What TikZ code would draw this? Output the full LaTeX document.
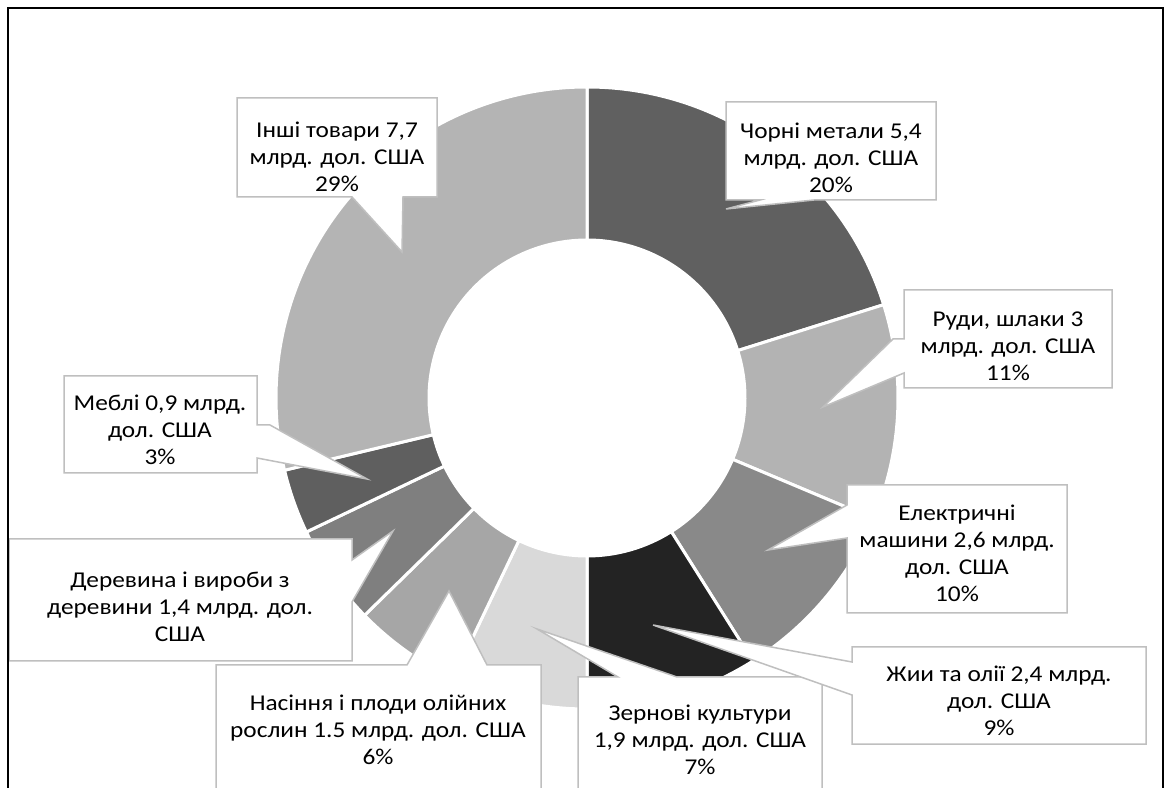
\documentclass[tikz,border=0pt]{standalone}
\usepackage{fontspec}
\setmainfont{Carlito}[FakeStretch=1.12]
\usetikzlibrary{calc}
\definecolor{cChorni}{HTML}{606060}
\definecolor{cRudy}{HTML}{B3B3B3}
\definecolor{cElektr}{HTML}{898989}
\definecolor{cZhyry}{HTML}{232323}
\definecolor{cZerno}{HTML}{D9D9D9}
\definecolor{cNasin}{HTML}{A6A6A6}
\definecolor{cDerev}{HTML}{7F7F7F}
\definecolor{cMebli}{HTML}{5F5F5F}
\definecolor{cInshi}{HTML}{B4B4B4}
\definecolor{calloutgray}{HTML}{BFBFBF}
\begin{document}
\begin{tikzpicture}[x=0.5pt,y=0.5pt,
  lbl/.style={align=center, font=\fontsize{11.3}{13.5}\selectfont, inner sep=0pt, text=black},
  callout/.style={fill=white, draw=calloutgray, line width=0.75pt, line join=miter},
  slice/.style={draw=white, line width=1.5pt, line join=miter}]
\useasboundingbox (0,0) rectangle (1172,787);
\clip (0,0) rectangle (1172,787);
\fill[white] (0,0) rectangle (1172,787);
\coordinate (C) at (587,389);
% doughnut slices
\foreach \a/\b/\c in {90/17.463/cChorni, 17.463/-22.836/cRudy, -22.836/-57.761/cElektr,
  -57.761/-90/cZhyry, -90/-115.522/cZerno, -115.522/-135.672/cNasin,
  -135.672/-154.478/cDerev, -154.478/-166.567/cMebli, -166.567/-270/cInshi} {
  \path[fill=\c, slice] ($(C)+(\a:311)$) arc[start angle=\a, end angle=\b, radius=311]
    -- ($(C)+(\b:158)$) arc[start angle=\b, end angle=\a, radius=158] -- cycle;
}
% callouts
\path[callout] (237,689) -- (437,689) -- (437,590) -- (403,590) -- (402,535) -- (352,590) -- (237,590) -- cycle;
\node[lbl] (inshi) at (337,630) {Інші товари 7,7\\млрд. дол. США\\29\%};

\path[callout] (726,685) -- (936,685) -- (936,587) -- (814,587) -- (726,578) -- (760,587) -- (726,587) -- cycle;
\node[lbl] (chorni) at (831,629) {Чорні метали 5,4\\млрд. дол. США\\20\%};

\path[callout] (904,497) -- (1112,497) -- (1112,399) -- (904,399) -- (904,414) -- (823,380) -- (893,448) -- (904,448) -- cycle;
\node[lbl] (rudy) at (1008,441) {Руди, шлаки 3\\млрд. дол. США\\11\%};

\path[callout] (847,302) -- (1067,302) -- (1067,174) -- (847,174) -- (847,249) -- (768,237) -- (847,282) -- cycle;
\node[lbl] (elektr) at (957,234) {Електричні\\машини 2,6 млрд.\\дол. США\\10\%};

\path[callout] (578,110) -- (618,110) -- (537,158) -- (677,110) -- (822,110) -- (822,-13) -- (578,-13) -- cycle;
\node[lbl] (zerno) at (700,47) {Зернові культури\\1,9 млрд. дол. США\\7\%};

\path[callout] (852,140) -- (1146,140) -- (1146,43) -- (852,43) -- (852,92) -- (653,162) -- (852,125) -- cycle;
\node[lbl] (zhyry) at (999,86) {Жии та олії 2,4 млрд.\\дол. США\\9\%};

\path[callout] (216,122) -- (407,122) -- (449,196) -- (487,122) -- (541,122) -- (541,-13) -- (216,-13) -- cycle;
\node[lbl] (nasin) at (378,57) {Насіння і плоди олійних\\рослин 1.5 млрд. дол. США\\6\%};

\path[callout] (9,248) -- (352,248) -- (352,227) -- (393,256) -- (352,185) -- (352,126) -- (9,126) -- cycle;
\node[lbl] (derev) at (180,180) {Деревина і вироби з\\деревини 1,4 млрд. дол.\\США};

\path[callout] (64,411) -- (257,411) -- (257,362) -- (270,362) -- (367,308) -- (257,329) -- (257,314) -- (64,314) -- cycle;
\node[lbl] (mebli) at (160,357) {Меблі 0,9 млрд.\\дол. США\\3\%};

% outer frame
\draw[line width=1pt, line join=miter] (8,-20) -- (8,779) -- (1163,779) -- (1163,-20);
\end{tikzpicture}
\end{document}
